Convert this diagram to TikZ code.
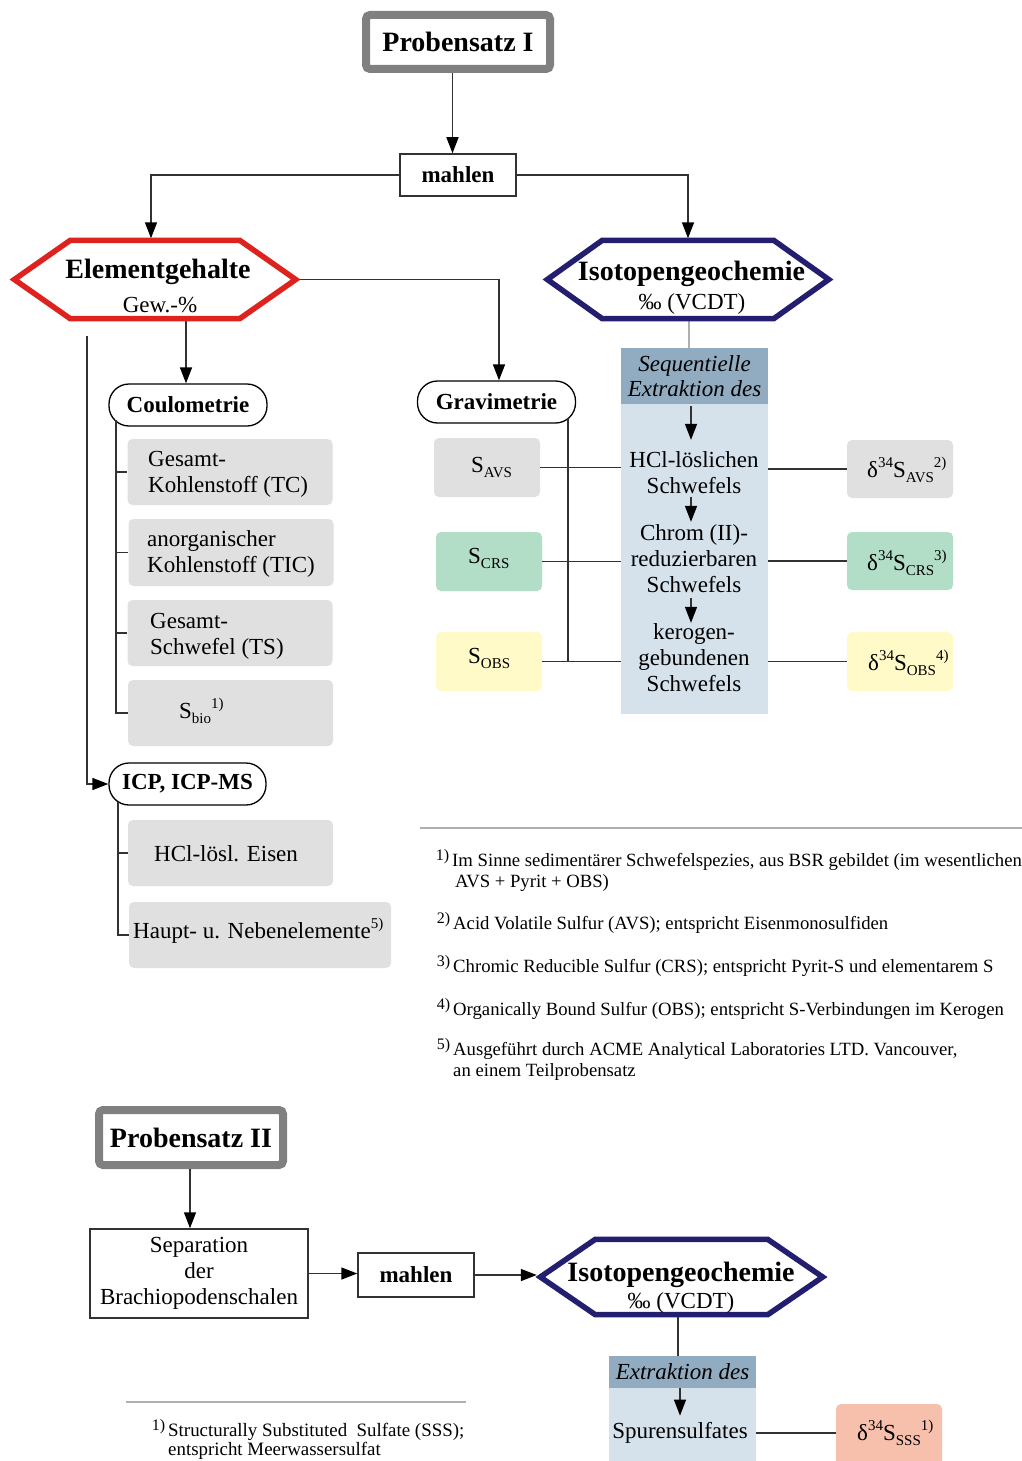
\documentclass[tikz,border=0pt]{standalone}
\usepackage{fontspec}
\setmainfont{Liberation Serif}
\usetikzlibrary{arrows.meta}

\definecolor{lin}{RGB}{50,50,50}
\definecolor{pgray}{RGB}{128,128,128}
\definecolor{cRed}{RGB}{222,35,30}
\definecolor{cBlue}{RGB}{36,30,112}
\definecolor{cGray}{RGB}{224,224,224}
\definecolor{cGreen}{RGB}{178,222,200}
\definecolor{cYellow}{RGB}{255,250,200}
\definecolor{cHdr}{RGB}{145,172,193}
\definecolor{cBody}{RGB}{213,226,235}
\definecolor{cSalmon}{RGB}{246,192,172}
\definecolor{lgray}{RGB}{175,175,175}

% font sizes
\newcommand\fB{\fontsize{23}{26}\selectfont}
\newcommand\fH{\fontsize{28}{32}\selectfont\bfseries}
\newcommand\fM{\fontsize{23}{26}\selectfont\bfseries}
\newcommand\fF{\fontsize{18.7}{20.5}\selectfont}
% lowered / raised indices
\newcommand\lo[1]{\raisebox{-5pt}{\fontsize{15}{15}\selectfont #1}}
\newcommand\hi[1]{\raisebox{10pt}{\fontsize{15}{15}\selectfont #1}}
% hanging footnote mark
\newcommand\fnm[1]{\makebox[0pt][r]{\raisebox{6pt}{\fontsize{16}{16}\selectfont #1)}\hspace{3pt}}}

\tikzset{
  conn/.style={draw=lin, line width=1.5pt},
  arr/.style={conn, -{Triangle[length=16pt,width=12pt,color=black]}},
  pbox/.style={draw=pgray, line width=8pt, rounded corners=4pt, fill=white, inner sep=0pt, font=\fH},
  mbox/.style={draw=lin, line width=1.5pt, fill=white, inner sep=0pt},
  pill/.style={draw=black, line width=1.3pt, rounded corners=20pt, fill=white, inner sep=0pt, minimum height=42pt, font=\fM},
  hexn/.style={inner sep=0pt, minimum width=281pt, minimum height=78pt},
  redhex/.style={draw=cRed, line width=5.5pt},
  bluehex/.style={draw=cBlue, line width=5.5pt},
  sbox/.style={inner sep=0pt, rounded corners=5pt},
  txt/.style={inner sep=0pt, font=\fB},
  fn/.style={inner sep=0pt, font=\fF, align=left, anchor=base west},
}

\begin{document}
\begin{tikzpicture}[x=1pt,y=-1pt]
\useasboundingbox (0,0) rectangle (1022,1461);
\fill[white] (0,0) rectangle (1022,1461);

% ---------------- Probensatz I ----------------
% (multi-line text nodes are placed by the baseline of their last line)
\node[pbox, minimum width=184pt, minimum height=54pt] (p1) at (458,42) {Probensatz I};
\node[mbox, minimum width=116pt, minimum height=42pt, font=\fM] (m1) at (458,175) {mahlen};

\node[hexn] (elem) at (155,279.5) {};
\node[hexn] (iso) at (688,279.5) {};

% coulometry / ICP column
\node[pill, minimum width=158pt] (coul) at (188,405) {Coulometrie};
\node[pill, minimum width=157pt] (icp) at (187.5,784) {ICP, ICP-MS};

\node[sbox, fill=cGray, minimum width=205pt, minimum height=66pt] (b1) at (230,472) {};
\node[sbox, fill=cGray, minimum width=205pt, minimum height=67pt] (b2) at (231,552.5) {};
\node[sbox, fill=cGray, minimum width=205pt, minimum height=66pt] (b3) at (230,633) {};
\node[sbox, fill=cGray, minimum width=205pt, minimum height=66pt] (b4) at (230.5,713) {};
\node[sbox, fill=cGray, minimum width=205pt, minimum height=66pt] (b5) at (230.5,853) {};
\node[sbox, fill=cGray, minimum width=262pt, minimum height=66pt] (b6) at (260,935) {};

\node[txt, align=left, anchor=base west] (b1t) at (148,492) {Gesamt-\\Kohlenstoff (TC)};
\node[txt, align=left, anchor=base west] (b2t) at (147,572) {anorganischer\\Kohlenstoff (TIC)};
\node[txt, align=left, anchor=base west] (b3t) at (150,654) {Gesamt-\\Schwefel (TS)};
\node[txt, anchor=base west] (b4t) at (179,718) {S\lo{bio}\hi{1)}};
\node[txt, anchor=base west] (b5t) at (154,861) {HCl-lösl. Eisen};
\node[txt, anchor=base west] (b6t) at (133,938) {Haupt- u. Nebenelemente\hi{5)}};

% gravimetry column
\node[pill, minimum width=158pt] (grav) at (496.5,402) {Gravimetrie};
\node[sbox, fill=cGray, minimum width=106pt, minimum height=59pt] (savs) at (487,467.5) {};
\node[sbox, fill=cGreen, minimum width=106pt, minimum height=59pt] (scrs) at (489,561.5) {};
\node[sbox, fill=cYellow, minimum width=106pt, minimum height=59pt] (sobs) at (489,661.5) {};
\node[txt, anchor=base west] (savst) at (471,472) {S\lo{AVS}};
\node[txt, anchor=base west] (scrst) at (468,563) {S\lo{CRS}};
\node[txt, anchor=base west] (sobst) at (468,663) {S\lo{OBS}};

% sequential extraction
\node[inner sep=0pt, fill=cBody, minimum width=147pt, minimum height=310pt] (body) at (694.5,559) {};
\node[inner sep=0pt, fill=cHdr, minimum width=147pt, minimum height=56pt] (hdr) at (694.5,376) {};
\node[txt, align=center, anchor=base, font=\fontsize{23}{25}\selectfont\itshape] (seqt) at (694.5,396) {Sequentielle\\Extraktion des};
\node[txt, align=center, anchor=base] (hcl) at (694,493) {HCl-löslichen\\Schwefels};
\node[txt, align=center, anchor=base] (chrom) at (694,592) {Chrom (II)-\\reduzierbaren\\Schwefels};
\node[txt, align=center, anchor=base] (kero) at (694,691) {kerogen-\\gebundenen\\Schwefels};

% isotope results
\node[sbox, fill=cGray, minimum width=106pt, minimum height=58pt] (davs) at (900,469) {};
\node[sbox, fill=cGreen, minimum width=106pt, minimum height=58pt] (dcrs) at (900,561) {};
\node[sbox, fill=cYellow, minimum width=106pt, minimum height=59pt] (dobs) at (900,661.5) {};
\node[txt, anchor=base west] (davst) at (867,477) {δ\hi{34}S\lo{AVS}\hi{2)}};
\node[txt, anchor=base west] (dcrst) at (867,570) {δ\hi{34}S\lo{CRS}\hi{3)}};
\node[txt, anchor=base west] (dobst) at (868,670) {δ\hi{34}S\lo{OBS}\hi{4)}};

% helper columns for connectors
\coordinate (ax1) at (452.5,0);
\coordinate (lx1) at (151,0);
\coordinate (rx1) at (688,0);
\coordinate (cx) at (186,0);
\coordinate (gx) at (499,0);
\coordinate (sx) at (689,0);
\coordinate (ax) at (691,0);
\coordinate (ls) at (87,336);
\coordinate (cb) at (116,420);
\coordinate (ib) at (118,802);
\coordinate (gv) at (568,418);

% connectors, top part
\draw[arr] (p1.south -| ax1) -- (m1.north -| ax1);
\draw[arr, shorten >=2pt] (m1.west) -| (lx1 |- elem.north);
\draw[arr, shorten >=2pt] (m1.east) -| (rx1 |- iso.north);
\draw[arr, shorten <=2.5pt] (elem.south -| cx) -- (coul.north -| cx);
\draw[arr] (elem.east) -| (gx |- grav.north);
\draw[arr] (ls) |- (icp.west);
\draw[conn] (cb) |- (b4.west);
\draw[conn] (cb |- b1.west) -- (b1.west);
\draw[conn] (cb |- b2.west) -- (b2.west);
\draw[conn] (cb |- b3.west) -- (b3.west);
\draw[conn] (ib) |- (b6.west);
\draw[conn] (ib |- b5.west) -- (b5.west);
\draw[conn] (gv) -- (gv |- sobs.east);
\draw[conn] (savs.east) -- (savs.east -| body.west);
\draw[conn] (scrs.east) -- (scrs.east -| body.west);
\draw[conn] (sobs.east) -- (sobs.east -| body.west);
\draw[conn] (davs.west -| body.east) -- (davs.west);
\draw[conn] (dcrs.west -| body.east) -- (dcrs.west);
\draw[conn] (dobs.west -| body.east) -- (dobs.west);
\draw[conn, draw=lgray, shorten <=2.5pt] (iso.south -| sx) -- (sx |- hdr.north);
\draw[arr, shorten <=2pt, shorten >=11pt] (hdr.south -| ax) -- (ax |- hcl.north);
\draw[arr, shorten <=4pt, shorten >=2pt] (hcl.south -| ax) -- (ax |- chrom.north);
\draw[arr, shorten <=6pt] (chrom.south -| ax) -- (ax |- kero.north);

% hexagons
\draw[redhex] (elem.west) -- ([xshift=56pt]elem.north west) -- ([xshift=-56pt]elem.north east)
  -- (elem.east) -- ([xshift=-56pt]elem.south east) -- ([xshift=56pt]elem.south west) -- cycle;
\draw[bluehex] (iso.west) -- ([xshift=55pt]iso.north west) -- ([xshift=-55pt]iso.north east)
  -- (iso.east) -- ([xshift=-55pt]iso.south east) -- ([xshift=55pt]iso.south west) -- cycle;
\node[inner sep=0pt, anchor=base, font=\fH] (elemt) at (158,278) {Elementgehalte};
\node[txt, anchor=base] (elemu) at (160,312) {Gew.-\%};
\node[inner sep=0pt, anchor=base, font=\fH] (isot) at (691.5,280) {Isotopengeochemie};
\node[txt, anchor=base] (isou) at (692,309) {‰ (VCDT)};

% footnotes, part I
\draw[draw=lgray, line width=1.2pt] (420,828) -- (1022,828);
\node[fn] (fn1) at (452,887) {\fnm{1}Im Sinne sedimentärer Schwefelspezies, aus BSR gebildet (im wesentlichen\\\hspace*{3pt}AVS + Pyrit + OBS)};
\node[fn] (fn2) at (453,929) {\fnm{2}Acid Volatile Sulfur (AVS); entspricht Eisenmonosulfiden};
\node[fn] (fn3) at (453,972) {\fnm{3}Chromic Reducible Sulfur (CRS); entspricht Pyrit-S und elementarem S};
\node[fn] (fn4) at (453,1015) {\fnm{4}Organically Bound Sulfur (OBS); entspricht S-Verbindungen im Kerogen};
\node[fn] (fn5) at (453,1076) {\fnm{5}Ausgeführt durch ACME Analytical Laboratories LTD. Vancouver,\\an einem Teilprobensatz};

% ---------------- Probensatz II ----------------
\node[pbox, minimum width=184pt, minimum height=55pt] (p2) at (191,1137.5) {Probensatz II};
\node[mbox, minimum width=218pt, minimum height=89pt, font=\fB, align=center] (sep) at (199,1273.5) {Separation\\der\\Brachiopodenschalen};
\node[mbox, minimum width=116pt, minimum height=44pt, font=\fM] (m2) at (416,1275) {mahlen};
\node[hexn, minimum width=282pt, minimum height=75pt] (hex2) at (681.5,1277) {};
\node[inner sep=0pt, fill=cBody, minimum width=147pt, minimum height=82pt] (body2) at (682.5,1429) {};
\node[inner sep=0pt, fill=cHdr, minimum width=147pt, minimum height=32pt, font=\fB\itshape] (hdr2) at (682.5,1372) {Extraktion des};
\node[txt, anchor=base] (sp) at (680,1438) {Spurensulfates};
\node[sbox, fill=cSalmon, minimum width=106pt, minimum height=72pt] (sss) at (889,1440) {};
\node[txt, anchor=base west] (ssst) at (857,1440) {δ\hi{34}S\lo{SSS}\hi{1)}};

\coordinate (bx) at (190,0);
\coordinate (hx) at (678,0);
\coordinate (ax2) at (680,0);
\coordinate (sl) at (0,1433);

\draw[arr] (p2.south -| bx) -- (sep.north -| bx);
\draw[arr] (sep.east) -- (sep.east -| m2.west);
\draw[arr, shorten >=3.5pt] (m2.east) -- (m2.east -| hex2.west);
\draw[conn, shorten <=2.5pt] (hex2.south -| hx) -- (hx |- hdr2.north);
\draw[arr, shorten >=6pt] (hdr2.south -| ax2) -- (ax2 |- sp.north);
\draw[conn] (body2.east |- sl) -- (sss.west |- sl);

\draw[bluehex] (hex2.west) -- ([xshift=55pt]hex2.north west) -- ([xshift=-55pt]hex2.north east)
  -- (hex2.east) -- ([xshift=-55pt]hex2.south east) -- ([xshift=55pt]hex2.south west) -- cycle;
\node[inner sep=0pt, anchor=base, font=\fH] (hex2t) at (681,1281) {Isotopengeochemie};
\node[txt, anchor=base] (hex2u) at (681,1308) {‰ (VCDT)};

% footnote, part II
\draw[draw=lgray, line width=1.2pt] (126,1402) -- (466,1402);
\node[fn, font=\fontsize{18.9}{19}\selectfont] (fn6) at (168,1455.5) {\fnm{1}Structurally Substituted\ \ Sulfate (SSS);\\entspricht Meerwassersulfat};
\end{tikzpicture}
\end{document}
